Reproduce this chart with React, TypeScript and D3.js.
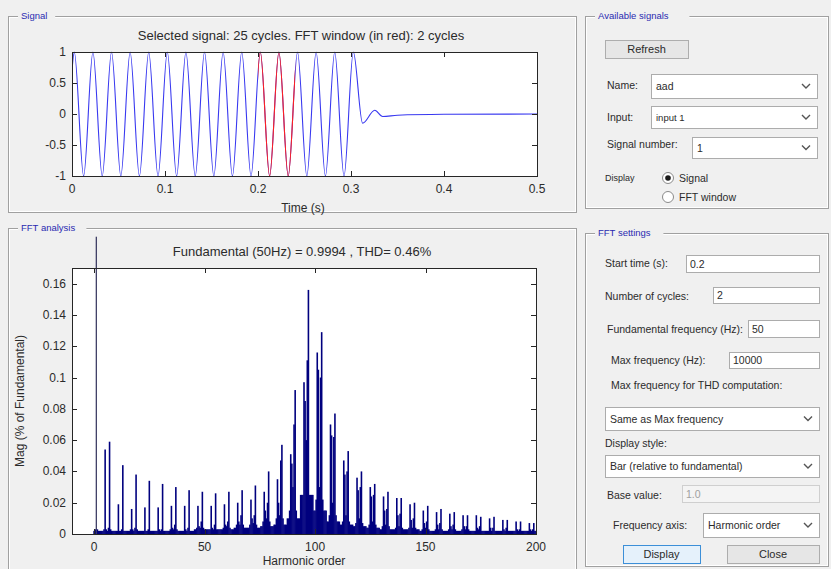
import React from 'react';
import * as d3 from 'd3';

// ---- signal trace (top plot): extrema of the waveform and the decay tail ----
const signalTimes = [
  0, 0.0025, 0.0125, 0.0225, 0.0325, 0.0425, 0.0525, 0.0625, 0.0725, 0.0825, 0.0925,
  0.1025, 0.1125, 0.1225, 0.1325, 0.1425, 0.1525, 0.1625, 0.1725, 0.1825, 0.1925,
  0.2025, 0.2125, 0.2225, 0.2325, 0.2425, 0.2525, 0.2625, 0.2725, 0.2825, 0.2925, 0.3025,
  0.3125, 0.3255, 0.334, 0.35, 0.4, 0.5,
];
const signalValues = [
  0.7, 1, -1, 1, -1, 1, -1, 1, -1, 1, -1,
  1, -1, 1, -1, 1, -1, 1, -1, 1, -1,
  1, -1, 1, -1, 1, -1, 1, -1, 1, -1, 1,
  -0.15, 0.06, -0.04, -0.02, -0.005, 0,
];
const fftStart = 0.2;
const fftCycles = 2;
const fundamentalHz = 50;

// ---- FFT spectrum: sidebands around multiples of 6 (6k-1, 6k+1) and leakage bins ----
const clusterCenters = [
  6, 12, 18, 24, 30, 36, 42, 48, 54, 60, 66, 72, 78, 84, 90, 96, 102,
  108, 114, 120, 126, 132, 138, 144, 150, 156, 162, 168, 174, 180, 186, 192, 198,
];
const lowerMag = [
  0.054, 0.019, 0.016, 0.017, 0.017, 0.018, 0.018, 0.018, 0.018, 0.019, 0.020, 0.022, 0.027, 0.035, 0.051, 0.097, 0.116,
  0.070, 0.047, 0.036, 0.030, 0.024, 0.023, 0.019, 0.015, 0.014, 0.013, 0.012, 0.012, 0.010, 0.009, 0.008, 0.007,
];
const upperMag = [
  0.059, 0.044, 0.038, 0.034, 0.032, 0.030, 0.028, 0.027, 0.026, 0.027, 0.028, 0.031, 0.040, 0.057, 0.092, 0.156, 0.129,
  0.077, 0.053, 0.040, 0.032, 0.027, 0.023, 0.020, 0.018, 0.016, 0.014, 0.012, 0.011, 0.011, 0.009, 0.008, 0.007,
];
const leakLow = [
  0.003, 0.002, 0.003, 0.002, 0.003, 0.004, 0.003, 0.005, 0.004, 0.006, 0.008, 0.010, 0.015, 0.020, 0.045, 0.085, 0.105,
  0.063, 0.038, 0.028, 0.024, 0.015, 0.012, 0.009, 0.007, 0.006, 0.005, 0.005, 0.004, 0.004, 0.003, 0.003, 0.003,
];
const leakMid = [
  0.002, 0.002, 0.002, 0.002, 0.002, 0.003, 0.002, 0.004, 0.003, 0.005, 0.006, 0.007, 0.010, 0.012, 0.030, 0.060, 0.030,
  0.020, 0.012, 0.010, 0.008, 0.006, 0.005, 0.004, 0.004, 0.003, 0.003, 0.003, 0.003, 0.002, 0.002, 0.002, 0.002,
];
const leakHigh = [
  0.004, 0.003, 0.004, 0.003, 0.003, 0.006, 0.004, 0.008, 0.006, 0.008, 0.012, 0.012, 0.020, 0.047, 0.070, 0.111, 0.100,
  0.062, 0.040, 0.030, 0.025, 0.016, 0.013, 0.010, 0.008, 0.007, 0.006, 0.005, 0.005, 0.004, 0.004, 0.003, 0.003,
];
const outerMag = [
  0.003, 0.002, 0.003, 0.002, 0.002, 0.003, 0.002, 0.004, 0.003, 0.004, 0.006, 0.006, 0.008, 0.010, 0.015, 0.025, 0.022,
  0.012, 0.008, 0.007, 0.006, 0.005, 0.004, 0.004, 0.003, 0.003, 0.003, 0.003, 0.002, 0.002, 0.002, 0.002, 0.002,
];
const farMag = [
  0.002, 0.002, 0.002, 0.002, 0.002, 0.002, 0.002, 0.003, 0.003, 0.003, 0.004, 0.004, 0.005, 0.006, 0.010, 0.025, 0.015,
  0.008, 0.006, 0.005, 0.004, 0.003, 0.003, 0.003, 0.002, 0.002, 0.002, 0.002, 0.002, 0.002, 0.002, 0.002, 0.002,
];
const lowOrders = [0, 0.5, 1.5, 2, 2.5, 3];
const lowOrderMags = [0.002, 0.003, 0.003, 0.002, 0.002, 0.002];
const fundamentalOrder = 1;
const fundamentalShown = 0.19; // bar runs out of the axes, drawn up to here

const signalXTicks = [0, 0.1, 0.2, 0.3, 0.4, 0.5];
const signalYTicks = [-1, -0.5, 0, 0.5, 1];
const fftXTicks = [0, 50, 100, 150, 200];
const fftYTicks = [0, 0.02, 0.04, 0.06, 0.08, 0.1, 0.12, 0.14, 0.16];

const FONT = 'Liberation Sans, Arial, Helvetica, sans-serif';
const BG = '#f0f0f0';
const LABEL = '#2b2b2b';
const PANEL_TITLE = '#2a2ab0';

const fmt = (v: number) => String(+v.toFixed(3));

function Panel({ x, y, w, h, title }: { x: number; y: number; w: number; h: number; title: string }) {
  const tw = title.length * 5.2 + 6;
  return (
    <g>
      <rect x={x + 0.5} y={y + 0.5} width={w} height={h} fill="none" stroke="#a0a0a0" />
      <rect x={x + 1.5} y={y + 1.5} width={w - 2} height={h - 2} fill="none" stroke="#ffffff" />
      <rect x={x + 10} y={y - 5} width={tw} height={10} fill={BG} />
      <text x={x + 13} y={y + 3} fontSize={9.5} fill={PANEL_TITLE} fontFamily={FONT}>{title}</text>
    </g>
  );
}

function Chevron({ x, y }: { x: number; y: number }) {
  return <path d={`M${x - 4},${y - 2} L${x},${y + 2} L${x + 4},${y - 2}`} fill="none" stroke="#555" strokeWidth={1.4} />;
}

function Dropdown({ x, y, w, h, text, fs = 10.5 }: { x: number; y: number; w: number; h: number; text: string; fs?: number }) {
  return (
    <g>
      <rect x={x + 0.5} y={y + 0.5} width={w} height={h} fill="#fff" stroke="#acacac" />
      <text x={x + 5} y={y + h / 2 + 4} fontSize={fs} fill={LABEL} fontFamily={FONT}>{text}</text>
      <Chevron x={x + w - 11} y={y + h / 2} />
    </g>
  );
}

function TextBox({ x, y, w, h, text, disabled = false }: { x: number; y: number; w: number; h: number; text: string; disabled?: boolean }) {
  return (
    <g>
      <rect x={x + 0.5} y={y + 0.5} width={w} height={h} fill={disabled ? '#f4f4f4' : '#fff'} stroke={disabled ? '#cfcfcf' : '#acacac'} />
      <text x={x + 4} y={y + h / 2 + 4} fontSize={10.5} fill={disabled ? '#a0a0a0' : LABEL} fontFamily={FONT}>{text}</text>
    </g>
  );
}

function Button({ x, y, w, h, text, focused = false }: { x: number; y: number; w: number; h: number; text: string; focused?: boolean }) {
  return (
    <g>
      <rect x={x + 0.5} y={y + 0.5} width={w} height={h} fill={focused ? '#e5f1fb' : '#e6e6e6'} stroke={focused ? '#3c8fd8' : '#adadad'} />
      <text x={x + w / 2} y={y + h / 2 + 4} textAnchor="middle" fontSize={11} fill={LABEL} fontFamily={FONT}>{text}</text>
    </g>
  );
}

function Label({ x, y, text, size = 10.5 }: { x: number; y: number; text: string; size?: number }) {
  return <text x={x} y={y} fontSize={size} fill={LABEL} fontFamily={FONT}>{text}</text>;
}

function Frame({ x0, x1, y0, y1, xTicks, yTicks, xs, ys }: any) {
  const tl = 5;
  return (
    <g stroke="#262626" strokeWidth={1} fill="none">
      <rect x={x0 + 0.5} y={y0 + 0.5} width={x1 - x0} height={y1 - y0} />
      {xTicks.map((t: number) => (
        <g key={'x' + t}>
          <line x1={Math.round(xs(t)) + 0.5} x2={Math.round(xs(t)) + 0.5} y1={y1} y2={y1 - tl} />
          <line x1={Math.round(xs(t)) + 0.5} x2={Math.round(xs(t)) + 0.5} y1={y0} y2={y0 + tl} />
        </g>
      ))}
      {yTicks.map((t: number) => (
        <g key={'y' + t}>
          <line x1={x0} x2={x0 + tl} y1={Math.round(ys(t)) + 0.5} y2={Math.round(ys(t)) + 0.5} />
          <line x1={x1} x2={x1 - tl} y1={Math.round(ys(t)) + 0.5} y2={Math.round(ys(t)) + 0.5} />
        </g>
      ))}
    </g>
  );
}

export default function App() {
  // signal axes
  const sx = d3.scaleLinear().domain([0, 0.5]).range([72, 537]);
  const sy = d3.scaleLinear().domain([-1, 1]).range([176, 52]);
  const pts: [number, number][] = signalTimes.map((t, i) => [t, signalValues[i]]);
  const line = d3.line<[number, number]>().x(d => sx(d[0])).y(d => sy(d[1])).curve(d3.curveMonotoneX);
  const sigPath = line(pts) || '';
  const fftEnd = fftStart + fftCycles / fundamentalHz;

  // FFT axes
  const fx = d3.scaleLinear().domain([-10, 200]).range([72, 536]);
  const fy = d3.scaleLinear().domain([0, 0.17]).range([534, 268]);
  const bins: { h: number; v: number; main: boolean }[] = [];
  lowOrders.forEach((h, i) => bins.push({ h, v: lowOrderMags[i], main: false }));
  clusterCenters.forEach((c, i) => {
    [c - 2.5, c - 2, c + 2, c + 2.5, c + 3].forEach(h => bins.push({ h, v: farMag[i], main: false }));
    bins.push({ h: c - 1.5, v: outerMag[i], main: false }, { h: c + 1.5, v: outerMag[i], main: false });
    bins.push({ h: c - 0.5, v: leakLow[i], main: false }, { h: c, v: leakMid[i], main: false }, { h: c + 0.5, v: leakHigh[i], main: false });
    bins.push({ h: c - 1, v: lowerMag[i], main: true }, { h: c + 1, v: upperMag[i], main: true });
  });
  const bw = (fx(1) - fx(0)) * 0.72;

  return (
    <div style={{ position: 'absolute', left: 0, top: 0 }}>
      <svg width={831} height={569} style={{ display: 'block', background: BG }}>
        <defs>
          <clipPath id="redWin">
            <rect x={sx(fftStart)} y={40} width={sx(fftEnd) - sx(fftStart)} height={150} />
          </clipPath>
          <clipPath id="sigClip">
            <rect x={72} y={50} width={466} height={128} />
          </clipPath>
          <clipPath id="fftClip">
            <rect x={72} y={268} width={464} height={267} />
          </clipPath>
        </defs>

        {/* panels */}
        <Panel x={8} y={16} w={568} h={196} title="Signal" />
        <Panel x={8} y={228} w={568} h={350} title="FFT analysis" />
        <Panel x={585} y={16} w={243} h={192} title="Available signals" />
        <Panel x={585} y={233} w={243} h={333} title="FFT settings" />

        {/* ---- signal plot ---- */}
        <rect x={72} y={52} width={465} height={124} fill="#fff" />
        <text x={301} y={40} textAnchor="middle" fontSize={13} fill={LABEL} fontFamily={FONT}>
          Selected signal: 25 cycles. FFT window (in red): 2 cycles
        </text>
        <g clipPath="url(#sigClip)">
          <path d={sigPath} fill="none" stroke="#3838f0" strokeWidth={1.1} />
          <path d={sigPath} fill="none" stroke="#ff2020" strokeWidth={1.1} clipPath="url(#redWin)" />
        </g>
        <Frame x0={72} x1={537} y0={52} y1={176} xTicks={signalXTicks} yTicks={signalYTicks} xs={sx} ys={sy} />
        {signalYTicks.map(t => (
          <text key={t} x={66} y={sy(t) + 4} textAnchor="end" fontSize={12} fill={LABEL} fontFamily={FONT}>{fmt(t)}</text>
        ))}
        {signalXTicks.map(t => (
          <text key={t} x={sx(t)} y={193} textAnchor="middle" fontSize={12} fill={LABEL} fontFamily={FONT}>{fmt(t)}</text>
        ))}
        <text x={303} y={212} textAnchor="middle" fontSize={12} fill={LABEL} fontFamily={FONT}>Time (s)</text>

        {/* ---- FFT plot ---- */}
        <rect x={72} y={268} width={464} height={266} fill="#fff" />
        <text x={302} y={256} textAnchor="middle" fontSize={13} fill={LABEL} fontFamily={FONT}>
          Fundamental (50Hz) = 0.9994 , THD= 0.46%
        </text>
        <g clipPath="url(#fftClip)">
          {bins.map((b, i) => (
            <rect key={i} x={fx(b.h) - bw / 2} y={fy(b.v)} width={bw} height={fy(0) - fy(b.v)}
              fill={b.main && i % 4 === 3 ? '#6a6ac8' : '#00007e'} />
          ))}
        </g>
        <rect x={fx(fundamentalOrder) - 0.6} y={fy(fundamentalShown)} width={1.2} height={fy(0) - fy(fundamentalShown)} fill="#30305a" />
        <Frame x0={72} x1={536} y0={268} y1={534} xTicks={fftXTicks} yTicks={fftYTicks} xs={fx} ys={fy} />
        {fftYTicks.map(t => (
          <text key={t} x={66} y={fy(t) + 4} textAnchor="end" fontSize={12} fill={LABEL} fontFamily={FONT}>{fmt(t)}</text>
        ))}
        {fftXTicks.map(t => (
          <text key={t} x={fx(t)} y={551} textAnchor="middle" fontSize={12} fill={LABEL} fontFamily={FONT}>{fmt(t)}</text>
        ))}
        <text x={304} y={565} textAnchor="middle" fontSize={12} fill={LABEL} fontFamily={FONT}>Harmonic order</text>
        <text transform="translate(24,401) rotate(-90)" textAnchor="middle" fontSize={12} fill={LABEL} fontFamily={FONT}>
          Mag (% of Fundamental)
        </text>

        {/* ---- available signals ---- */}
        <Button x={605} y={40} w={83} h={18} text="Refresh" />
        <Label x={607} y={89} text="Name:" />
        <Dropdown x={651} y={74} w={166} h={24} text="aad" />
        <Label x={607} y={121} text="Input:" />
        <Dropdown x={651} y={106} w={166} h={22} text="input 1" fs={9.5} />
        <Label x={607} y={148} text="Signal number:" />
        <Dropdown x={692} y={137} w={125} h={21} text="1" />
        <Label x={605} y={181} text="Display" size={9} />
        <circle cx={668} cy={178} r={5.5} fill="#fff" stroke="#8a8a8a" />
        <circle cx={668} cy={178} r={2.8} fill="#1a1a1a" />
        <Label x={679} y={182} text="Signal" />
        <circle cx={668} cy={197} r={5.5} fill="#fff" stroke="#8a8a8a" />
        <Label x={679} y={201} text="FFT window" />

        {/* ---- FFT settings ---- */}
        <Label x={605} y={267} text="Start time (s):" />
        <TextBox x={686} y={255} w={133} h={17} text="0.2" />
        <Label x={605} y={300} text="Number of cycles:" />
        <TextBox x={713} y={287} w={106} h={16} text="2" />
        <Label x={607} y={333} text="Fundamental frequency (Hz):" />
        <TextBox x={748} y={320} w={71} h={17} text="50" />
        <Label x={611} y={364} text="Max frequency (Hz):" />
        <TextBox x={729} y={352} w={90} h={16} text="10000" />
        <Label x={611} y={389} text="Max frequency for THD computation:" />
        <Dropdown x={605} y={407} w={214} h={23} text="Same as Max frequency" />
        <Label x={605} y={447} text="Display style:" />
        <Dropdown x={605} y={455} w={214} h={22} text="Bar (relative to fundamental)" />
        <Label x={607} y={499} text="Base value:" />
        <TextBox x={682} y={485} w={137} h={17} text="1.0" disabled />
        <Label x={613} y={529} text="Frequency axis:" />
        <Dropdown x={703} y={513} w={116} h={24} text="Harmonic order" />
        <Button x={623} y={545} w={77} h={18} text="Display" focused />
        <Button x={727} y={545} w={92} h={18} text="Close" />
      </svg>
    </div>
  );
}
